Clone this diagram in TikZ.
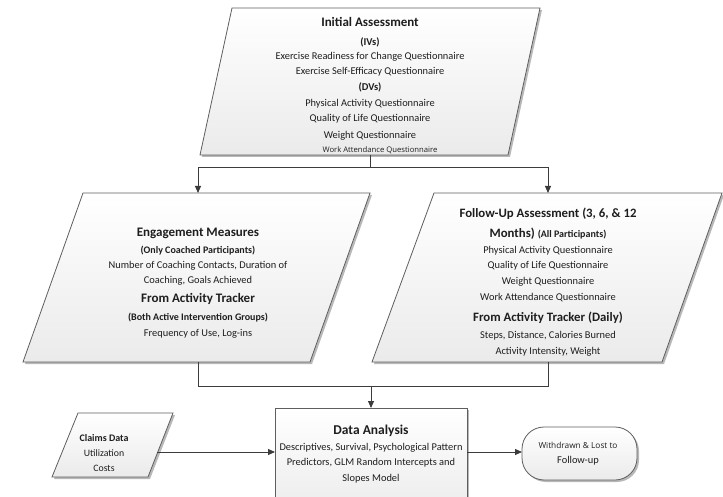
\documentclass[tikz,border=0pt]{standalone}
\usepackage{fontspec}
\setmainfont{Carlito}
\newfontfamily\osans{Open Sans}
\usetikzlibrary{arrows.meta}
\definecolor{edgec}{HTML}{5E5E5E}
\definecolor{wirec}{HTML}{3C3C3C}
\definecolor{txtc}{HTML}{1E1E1E}
\begin{document}
\begin{tikzpicture}[x=1pt,y=-1pt,
  shapebox/.style={draw=edgec, line width=0.8pt, top color=white, bottom color=black!8},
  shadowbox/.style={fill=black!28},
  wire/.style={draw=wirec, line width=0.9pt},
  arr/.style={wire, -{Triangle[length=7pt,width=6pt]}},
  lbl/.style={anchor=base, inner sep=0pt, text=txtc},
  tA/.style={lbl, font=\fontsize{13}{15}\selectfont\bfseries},
  tB/.style={lbl, font=\fontsize{13}{15}\selectfont\bfseries},
  tF/.style={lbl, font=\fontsize{12.8}{15}\selectfont\bfseries},
  tS/.style={lbl, font=\fontsize{10}{12}\selectfont\bfseries},
  tT/.style={lbl, font=\fontsize{10.4}{12}\selectfont},
  tO/.style={lbl, font=\fontsize{7.7}{9}\selectfont\osans},
]
\useasboundingbox (0,0) rectangle (723,497);
\clip (0,0) rectangle (723,497);

% ---------- shapes ----------
% Initial assessment
\fill[shadowbox] (234,10) -- (542,10) -- (510,157) -- (202,157) -- cycle;
\path[shapebox] (232,8) -- (540,8) -- (508,155) -- (200,155) -- cycle;
% Engagement
\fill[shadowbox] (85,195) -- (372,195) -- (312,364) -- (25,364) -- cycle;
\path[shapebox] (83,193) -- (370,193) -- (310,362) -- (23,362) -- cycle;
% Follow-up
\fill[shadowbox] (436,195) -- (724,195) -- (664,364) -- (374,364) -- cycle;
\path[shapebox] (434,193) -- (722,193) -- (662,362) -- (372,362) -- cycle;
% Claims
\fill[shadowbox] (80,415) -- (175,415) -- (150,479) -- (54,479) -- cycle;
\path[shapebox] (78,413) -- (173,413) -- (148,477) -- (52,477) -- cycle;
% Data analysis
\fill[shadowbox] (277,410) rectangle (469,520);
\path[shapebox] (275,408) rectangle (467,518);
% Withdrawn
\fill[shadowbox, rounded corners=22pt] (524,429) rectangle (639,482);
\path[shapebox, rounded corners=22pt] (522,427) rectangle (637,480);

% ---------- attach points ----------
\coordinate (iaB) at (370,155);
\coordinate (j1) at (370,167);
\coordinate (emT) at (198,193);
\coordinate (fuT) at (548,193);
\coordinate (emB) at (198,362);
\coordinate (fuB) at (548,362);
\coordinate (j2) at (371,386);
\coordinate (daT) at (371,408);
\coordinate (daL) at (275,452);
\coordinate (daR) at (467,452);
\coordinate (cdR) at (157,452);
\coordinate (wdL) at (522,452);

% ---------- connectors ----------
\draw[wire] (iaB) -- (j1);
\draw[arr] (j1) -| (emT);
\draw[arr] (j1) -| (fuT);
\draw[wire] (emB) |- (j2);
\draw[wire] (fuB) |- (j2);
\draw[arr] (j2) -- (daT);
\draw[arr] (cdR) -- (daL);
\draw[arr] (daR) -- (wdL);

% ---------- texts: initial assessment ----------
\node[tA] (ia1) at (370,26.5) {Initial Assessment};
\node[tS,font=\fontsize{10.5}{12}\selectfont\bfseries] (ia2) at (370,45.5) {(IVs)};
\node[tT] (ia3) at (370,59.5) {Exercise Readiness for Change Questionnaire};
\node[tT] (ia4) at (370,74.5) {Exercise Self-Efficacy Questionnaire};
\node[tS,font=\fontsize{10.5}{12}\selectfont\bfseries] (ia5) at (370,90.5) {(DVs)};
\node[tT] (ia6) at (370,106.5) {Physical Activity Questionnaire};
\node[tT] (ia7) at (370,121.5) {Quality of Life Questionnaire};
\node[tT] (ia8) at (370,138.5) {Weight Questionnaire};
\node[tO] (ia9) at (380,152.5) {Work Attendance Questionnaire};

% ---------- texts: engagement ----------
\node[tB] (em1) at (198,236.5) {Engagement Measures};
\node[tS] (em2) at (198,253.5) {(Only Coached Participants)};
\node[tT] (em3) at (198,268.5) {Number of Coaching Contacts, Duration of};
\node[tT] (em4) at (198,283.5) {Coaching, Goals Achieved};
\node[tB] (em5) at (198,302.5) {From Activity Tracker};
\node[tS] (em6) at (198,320.5) {(Both Active Intervention Groups)};
\node[tT] (em7) at (198,336.5) {Frequency of Use, Log-ins};

% ---------- texts: follow-up ----------
\node[tF] (fu1) at (548,217.5) {Follow-Up Assessment (3, 6, \& 12};
\node[tF] (fu2) at (548,237.5) {Months) {\fontsize{10}{12}\selectfont(All Participants)}};
\node[tT] (fu3) at (548,253.5) {Physical Activity Questionnaire};
\node[tT] (fu4) at (548,268.5) {Quality of Life Questionnaire};
\node[tT] (fu5) at (548,284.5) {Weight Questionnaire};
\node[tT] (fu6) at (548,300.5) {Work Attendance Questionnaire};
\node[tF] (fu7) at (548,321.5) {From Activity Tracker (Daily)};
\node[tT] (fu8) at (548,338.5) {Steps, Distance, Calories Burned};
\node[tT] (fu9) at (548,354.5) {Activity Intensity, Weight};

% ---------- texts: data analysis ----------
\node[tA,font=\fontsize{13.5}{15}\selectfont\bfseries] (da1) at (371,434.5) {Data Analysis};
\node[tT] (da2) at (371,450.5) {Descriptives, Survival, Psychological Pattern};
\node[tT] (da3) at (371,465.5) {Predictors, GLM Random Intercepts and};
\node[tT] (da4) at (371,481.5) {Slopes Model};

% ---------- texts: claims ----------
\node[tS] (cd1) at (104,441.5) {Claims Data};
\node[tT,font=\fontsize{9.8}{11}\selectfont] (cd2) at (104,456.5) {Utilization};
\node[tT,font=\fontsize{9.8}{11}\selectfont] (cd3) at (104,471.5) {Costs};

% ---------- texts: withdrawn ----------
\node[tO,font=\fontsize{8.3}{10}\selectfont\osans] (wd1) at (578,448) {Withdrawn \& Lost to};
\node[tT] (wd2) at (578,463.5) {Follow-up};
\end{tikzpicture}
\end{document}
